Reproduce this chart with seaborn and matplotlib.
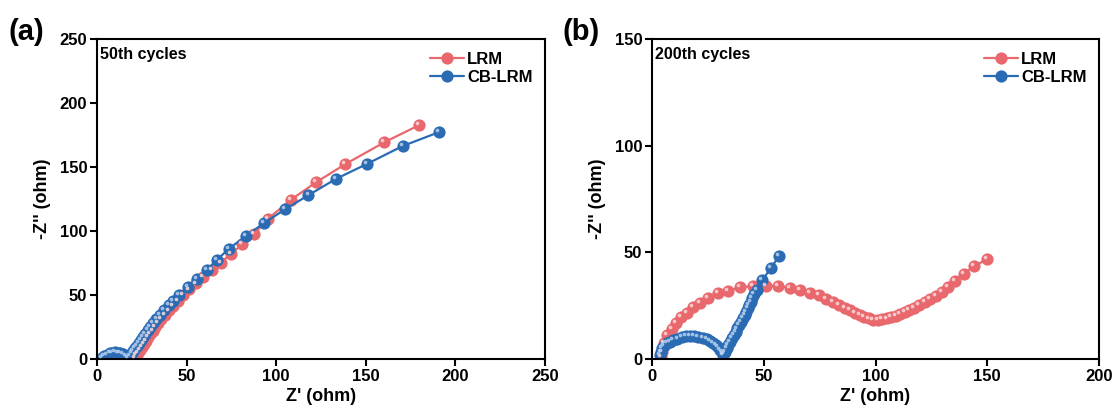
import numpy as np
import pandas as pd
import matplotlib
matplotlib.use("Agg")
import matplotlib.pyplot as plt
import matplotlib.transforms as mtransforms
from matplotlib.lines import Line2D
import seaborn as sns

# ---------------- data ----------------
series_names = ["LRM", "CB-LRM"]

# (a) 50th cycles
a_lrm_x = [21.0, 22.0, 23.0, 24.0, 25.0, 26.1, 27.2, 28.4, 29.6, 31.0, 32.5, 34.1, 35.9, 37.9,
           40.1, 42.5, 45.2, 48.2, 51.5, 55.2, 59.3, 63.9, 69.0, 74.7, 81.0, 87.5, 95.4, 108.3,
           122.2, 138.4, 160.3, 179.9]
a_lrm_y = [0.8, 2.8, 5.0, 7.3, 9.6, 12.0, 14.4, 16.9, 19.4, 22.2, 25.0, 28.0, 31.0, 34.3,
           37.9, 41.6, 45.5, 49.8, 54.3, 59.0, 64.0, 69.4, 75.3, 82.0, 89.5, 97.5, 109.5, 124.5,
           138.0, 152.1, 169.3, 182.8]
a_cb_x = [3.0, 4.0, 5.5, 7.0, 8.5, 10.0, 11.5, 13.0, 14.5, 16.0, 17.3, 18.4, 19.3, 20.3, 21.3,
          22.3, 23.3, 24.4, 25.6, 26.9, 28.3, 29.8, 31.4, 33.2, 35.2, 37.5, 40.0, 42.6, 45.9,
          50.6, 55.6, 61.2, 66.8, 73.5, 83.0, 93.0, 105.0, 118.0, 133.2, 150.5, 170.6, 191.0]
a_cb_y = [0.8, 2.2, 3.5, 4.5, 5.0, 5.2, 5.0, 4.6, 3.8, 2.6, 1.2, 2.5, 4.4, 6.4, 8.4,
          10.5, 12.6, 14.8, 17.2, 19.8, 22.5, 25.2, 28.0, 31.2, 34.6, 38.2, 42.0, 45.5, 50.0,
          56.5, 62.5, 69.5, 77.3, 86.0, 96.0, 106.0, 117.0, 128.0, 140.6, 152.3, 166.4, 177.3]

# (b) 200th cycles
b_lrm_x = [3.9, 4.3, 5.4, 6.9, 8.8, 10.7, 12.8, 15.5, 18.5, 21.5, 25.2, 29.7, 34.2, 39.4, 45.3,
           51.0, 56.5, 61.7, 66.2, 70.5, 74.5, 78.0, 81.0, 83.8, 86.3, 88.6, 90.8, 92.9, 95.0,
           97.0, 99.0, 101.0, 103.0, 105.0, 107.0, 109.0, 111.0, 113.0, 115.0, 117.2, 119.5,
           122.0, 124.5, 127.0, 129.7, 132.5, 135.6, 139.5, 144.0, 149.8]
b_lrm_y = [1.1, 3.4, 7.3, 11.3, 14.1, 16.7, 19.5, 21.7, 24.5, 26.4, 28.4, 30.8, 32.0, 33.6, 34.2,
           34.4, 34.2, 33.4, 32.3, 31.1, 29.8, 28.3, 26.9, 25.5, 24.1, 22.8, 21.6, 20.6, 19.7,
           19.0, 18.5, 18.4, 18.6, 19.0, 19.6, 20.3, 21.1, 22.0, 23.0, 24.0, 25.2,
           26.6, 28.0, 29.6, 31.4, 33.6, 36.5, 40.0, 43.5, 46.7]
b_cb_x = [3.6, 3.9, 4.3, 5.2, 6.6, 8.0, 9.5, 11.4, 13.3, 15.2, 17.0, 18.9, 20.7, 22.6, 24.5,
          26.0, 27.4, 28.6, 29.7, 30.5, 31.2, 31.6, 31.9, 32.3, 32.7, 33.4, 34.2, 35.0, 35.7,
          36.6, 37.4, 38.2, 38.9, 39.8, 40.6, 41.4, 42.1, 42.8, 43.5, 44.2, 44.9, 45.8, 46.8,
          49.4, 53.1, 57.0]
b_cb_y = [1.9, 3.5, 5.0, 6.3, 7.3, 8.2, 8.9, 9.6, 10.2, 10.6, 10.8, 10.8, 10.5, 9.9, 9.2,
          8.3, 7.3, 6.4, 5.5, 4.4, 3.4, 2.6, 1.9, 2.6, 3.4, 5.0, 6.6, 8.1, 9.7,
          11.2, 12.8, 14.3, 15.9, 17.5, 19.1, 20.6, 22.2, 23.7, 25.3, 26.8, 28.4, 30.3, 32.3,
          37.0, 42.5, 48.4]

a_xticks = [0, 50, 100, 150, 200, 250]
a_yticks = [0, 50, 100, 150, 200, 250]
b_xticks = [0, 50, 100, 150, 200]
b_yticks = [0, 50, 100, 150]

panel_labels = ["(a)", "(b)"]
cycle_labels = ["50th cycles", "200th cycles"]
xlabel = "Z' (ohm)"
ylabel = "-Z'' (ohm)"

# ---------------- style ----------------
sns.set_theme(style="ticks")
plt.rcParams["font.family"] = ["Liberation Sans", "DejaVu Sans"]
plt.rcParams["font.weight"] = "bold"
plt.rcParams["axes.labelweight"] = "bold"
for k in ["text.color", "axes.labelcolor", "xtick.color", "ytick.color", "axes.edgecolor"]:
    plt.rcParams[k] = "black"

colors = {"LRM": "#E8686D", "CB-LRM": "#2B6BB3"}
highlights = {"LRM": "#FCDADA", "CB-LRM": "#B5D0F0"}
msize = 8.8

fig = plt.figure(figsize=(11.18, 4.17), dpi=100)
ax_a = fig.add_axes([97 / 1118, 58 / 417, 448 / 1118, 320 / 417])
ax_b = fig.add_axes([652 / 1118, 58 / 417, 447 / 1118, 320 / 417])

def make_df(lx, ly, cx, cy):
    d1 = pd.DataFrame({"x": lx, "y": ly, "s": "LRM"})
    d2 = pd.DataFrame({"x": cx, "y": cy, "s": "CB-LRM"})
    return pd.concat([d1, d2], ignore_index=True)

dfs = [make_df(a_lrm_x, a_lrm_y, a_cb_x, a_cb_y),
       make_df(b_lrm_x, b_lrm_y, b_cb_x, b_cb_y)]

hl_offset = mtransforms.ScaledTranslation(-1.4 / 72, 1.4 / 72, fig.dpi_scale_trans)

for ax, df, xt, yt, pl, cl in zip([ax_a, ax_b], dfs, [a_xticks, b_xticks], [a_yticks, b_yticks],
                                  panel_labels, cycle_labels):
    for name in series_names:
        sub = df[df["s"] == name]
        sns.lineplot(data=sub, x="x", y="y", sort=False, estimator=None, ax=ax,
                     color=colors[name], lw=1.6, marker="o", markersize=msize,
                     markeredgewidth=0, legend=False)
        sns.scatterplot(data=sub, x="x", y="y", ax=ax, color=highlights[name], s=7,
                        alpha=0.85, linewidth=0, legend=False,
                        transform=ax.transData + hl_offset, zorder=3)
    ax.set_xlim(xt[0], xt[-1])
    ax.set_ylim(yt[0], yt[-1])
    ax.set_xticks(xt)
    ax.set_yticks(yt)
    ax.tick_params(axis="both", which="both", direction="out", length=5, width=1.5,
                   labelsize=12, pad=2, top=False, right=False, colors="black")
    for lab in ax.get_xticklabels() + ax.get_yticklabels():
        lab.set_fontweight("bold")
    for sp in ax.spines.values():
        sp.set_linewidth(1.5)
        sp.set_color("black")
        sp.set_visible(True)
    ax.set_xlabel(xlabel, fontsize=13, fontweight="bold", labelpad=3)
    ax.set_ylabel(ylabel, fontsize=13, fontweight="bold", labelpad=6)
    ax.text(0.006, 0.975, cl, transform=ax.transAxes, ha="left", va="top",
            fontsize=11.5, fontweight="bold")
    handles = [Line2D([0], [0], color=colors[n], lw=1.6, marker="o", markersize=msize,
                      markeredgewidth=0) for n in series_names]
    ax.legend(handles, series_names, loc="upper right", frameon=False,
              prop={"weight": "bold", "size": 12}, handlelength=2.0, handletextpad=0.2,
              labelspacing=0.2, borderaxespad=0.35)

fig.text(9 / 1118, 1 - 32 / 417, panel_labels[0], fontsize=21, fontweight="bold",
         ha="left", va="center")
fig.text(563 / 1118, 1 - 32 / 417, panel_labels[1], fontsize=21, fontweight="bold",
         ha="left", va="center")

fig.savefig("out.png", dpi=100)
